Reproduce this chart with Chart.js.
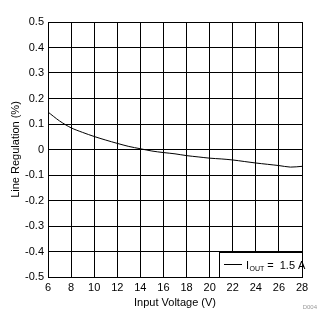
<!DOCTYPE html>
<html>
<head>
<meta charset="utf-8">
<script src="https://cdn.jsdelivr.net/npm/chart.js@4"></script>
<style>
  html, body { margin: 0; padding: 0; background: #fff; }
  #wrap { width: 331px; height: 328px; }
</style>
</head>
<body>
<div id="wrap"><canvas id="grafico" width="331" height="328"></canvas></div>
<script>
// voltaje de entrada (V) y regulacion de linea (%)
const voltajes = [6, 7, 8, 9, 10, 11, 12, 13, 14, 15, 16, 17, 18, 19, 20, 21, 22, 23, 24, 25, 26, 27, 28];
const regulacion = [0.147, 0.112, 0.085, 0.067, 0.051, 0.037, 0.024, 0.012, 0.003, -0.006, -0.012, -0.017, -0.024, -0.029, -0.034, -0.037, -0.041, -0.047, -0.053, -0.058, -0.063, -0.069, -0.066];
const ticksX = [6, 8, 10, 12, 14, 16, 18, 20, 22, 24, 26, 28];
const ticksY = [-0.5, -0.4, -0.3, -0.2, -0.1, 0, 0.1, 0.2, 0.3, 0.4, 0.5];
const etiquetaSerie = '1.5 A';
const codigo = 'D004';

const fuente = { family: 'Arial, "Liberation Sans", sans-serif', size: 11 };

const leyendaPlugin = {
    id: 'leyenda',
    afterDraw(chart) {
        const ctx = chart.ctx;
        const a = chart.chartArea;
        ctx.save();
        // caja de la leyenda
        const x0 = a.right - 83, y0 = a.bottom - 25;
        ctx.fillStyle = '#fff';
        ctx.fillRect(x0, y0, a.right - x0, a.bottom - y0);
        ctx.strokeStyle = '#000';
        ctx.lineWidth = 1;
        ctx.strokeRect(x0 + 0.5, y0 + 0.5, a.right - x0, a.bottom - y0);
        const yl = y0 + 12.5;
        ctx.beginPath();
        ctx.moveTo(x0 + 5, yl);
        ctx.lineTo(x0 + 23, yl);
        ctx.stroke();
        ctx.fillStyle = '#000';
        ctx.textBaseline = 'alphabetic';
        ctx.font = '11px Arial, "Liberation Sans", sans-serif';
        let x = x0 + 27;
        ctx.fillText('I', x, yl + 4);
        x += ctx.measureText('I').width + 0.5;
        ctx.font = '7px Arial, "Liberation Sans", sans-serif';
        ctx.fillText('OUT', x, yl + 6);
        x += ctx.measureText('OUT').width + 3;
        ctx.font = '11px Arial, "Liberation Sans", sans-serif';
        ctx.fillText('=', x, yl + 4);
        x += ctx.measureText('=').width + 6;
        ctx.fillText(etiquetaSerie, x, yl + 4);
        // codigo de figura
        ctx.fillStyle = '#999';
        ctx.font = '6px Arial, "Liberation Sans", sans-serif';
        ctx.textAlign = 'right';
        ctx.fillText(codigo, 317, 309);
        ctx.restore();
    }
};

new Chart(document.getElementById('grafico'), {
    type: 'line',
    data: {
        labels: voltajes,
        datasets: [{
            data: voltajes.map((v, i) => ({ x: v, y: regulacion[i] })),
            borderColor: '#000',
            borderWidth: 1,
            pointRadius: 0,
            fill: false,
            tension: 0.3
        }]
    },
    options: {
        responsive: false,
        animation: false,
        layout: { padding: { left: 9, right: 29, top: 22, bottom: 18 } },
        plugins: {
            legend: { display: false },
            tooltip: { enabled: false }
        },
        scales: {
            x: {
                type: 'linear',
                min: 6,
                max: 28,
                afterBuildTicks: (s) => { s.ticks = ticksX.map(v => ({ value: v })); },
                afterFit: (s) => { s.height = 33; },
                ticks: { color: '#000', font: fuente, padding: 4, maxRotation: 0 },
                grid: { color: '#000', lineWidth: 1, drawTicks: false },
                border: { color: '#000', width: 1 },
                title: { display: true, text: 'Input Voltage (V)', color: '#000', font: fuente, padding: { top: 2, bottom: 0 } }
            },
            y: {
                min: -0.5,
                max: 0.5,
                afterBuildTicks: (s) => { s.ticks = ticksY.map(v => ({ value: v })); },
                afterFit: (s) => { s.width = 39; },
                ticks: {
                    color: '#000',
                    font: fuente,
                    padding: 4,
                    callback: (v) => (Math.abs(v) < 1e-9 ? '0' : Number(v).toFixed(1))
                },
                grid: { color: '#000', lineWidth: 1, drawTicks: false },
                border: { color: '#000', width: 1 },
                title: { display: true, text: 'Line Regulation (%)', color: '#000', font: fuente, padding: { top: 0, bottom: 4 } }
            }
        }
    },
    plugins: [leyendaPlugin]
});
</script>
</body>
</html>
